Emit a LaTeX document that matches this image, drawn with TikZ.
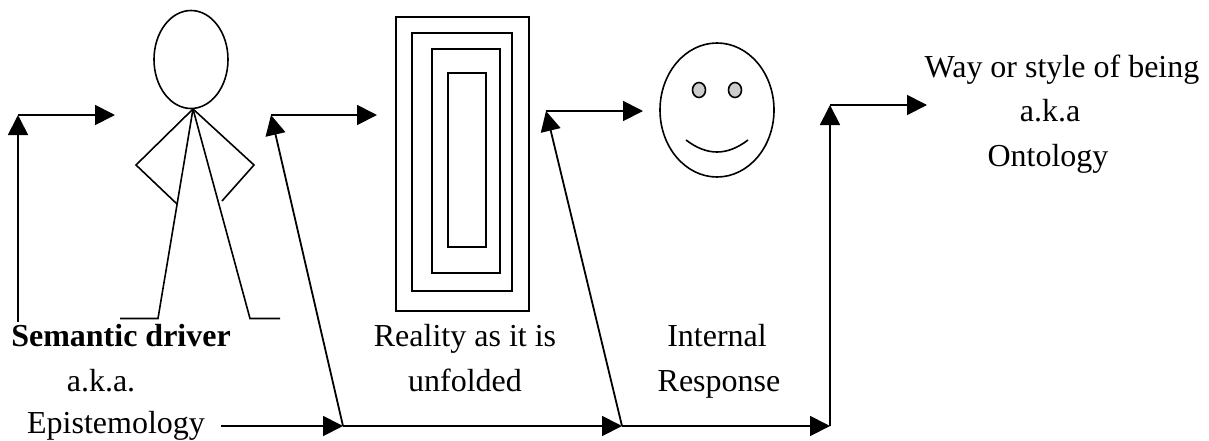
\documentclass[tikz,border=0pt]{standalone}
\usepackage{fontspec}
\setmainfont{Liberation Serif}
\usetikzlibrary{
  arrows.meta % For arrow tips
}

\begin{document}
\begin{tikzpicture}[
      x=1pt, y=-1pt,
      line width=1.3pt, % Default line thickness
      >={Triangle[length=20pt, width=20pt]}, % Default arrow tip
      flow/.style={black, line width=1.8pt, ->}, % Style for flow arrows
      thinline/.style={line width=1.6pt}, % Style for the figures
      caption/.style={anchor=base, inner sep=0pt, font=\fontsize{32}{32}\selectfont},
    ]
    \useasboundingbox (0,0) rectangle (1209,440);

    % Points of the flow arrows
    \coordinate (S) at (18,322);
    \coordinate (SC) at (18,115);
    \coordinate (SE) at (115,115);
    \coordinate (E0) at (221,426);
    \coordinate (E1) at (343,426);
    \coordinate (E2) at (622,426);
    \coordinate (E3) at (830,426);
    \coordinate (AC) at (271,115);
    \coordinate (AE) at (377,115);
    \coordinate (BC) at (546,111);
    \coordinate (BE) at (643,111);
    \coordinate (CC) at (830,105);
    \coordinate (CE) at (927,105);

    % Person
    \coordinate (neck) at (193,109);
    \draw[thinline] (191,59.5) ellipse [x radius=37, y radius=49];
    \draw[thinline] (neck) -- (136,165) -- (177,204);
    \draw[thinline] (neck) -- (254,165) -- (222,201);
    \draw[thinline] (neck) -- (158,318.5) -- (120,318.5);
    \draw[thinline] (neck) -- (250,318.5) -- (280,318.5);

    % Nested rectangles
    \foreach \a/\b/\c/\d in {396/17/529/311, 412/33/512/291, 432/49/500/273, 448/73/486/247}
    \draw[thinline] (\a,\b) rectangle (\c,\d);

    % Face
    \draw[thinline] (717,110) ellipse [x radius=57, y radius=67];
    \foreach \x in {699,735}
    \draw[thinline, fill=black!20] (\x,90) ellipse [x radius=6.5, y radius=7.5];
    \draw[thinline] (686,140) .. controls (707,156) and (727,156) .. (748,140);

    % Arrows
    \draw[flow] (S) -- (SC);
    \draw[flow] (SC) -- (SE);
    \draw[flow] (E0) -- (E1);
    \draw[flow] (E1) -- (AC);
    \draw[flow] (AC) -- (AE);
    \draw[flow] (E1) -- (E2);
    \draw[flow] (E2) -- (BC);
    \draw[flow] (BC) -- (BE);
    \draw[flow] (E2) -- (E3);
    \draw[flow] (E3) -- (CC);
    \draw[flow] (CC) -- (CE);

    % Labels
    \node[caption] (driver) at (121,346) {\textbf{Semantic driver}};
    \node[caption] (aka) at (101,391) {a.k.a.};
    \node[caption] (epistemology) at (116,433) {Epistemology};
    \node[caption] (reality) at (465,346) {Reality as it is};
    \node[caption] (unfolded) at (465,391) {unfolded};
    \node[caption] (internal) at (717,346) {Internal};
    \node[caption] (response) at (719,391) {Response};
    \node[caption] (way) at (1062,77) {Way or style of being};
    \node[caption] (akab) at (1050,121) {a.k.a};
    \node[caption] (ontology) at (1048,166) {Ontology};
  \end{tikzpicture}
\end{document}
